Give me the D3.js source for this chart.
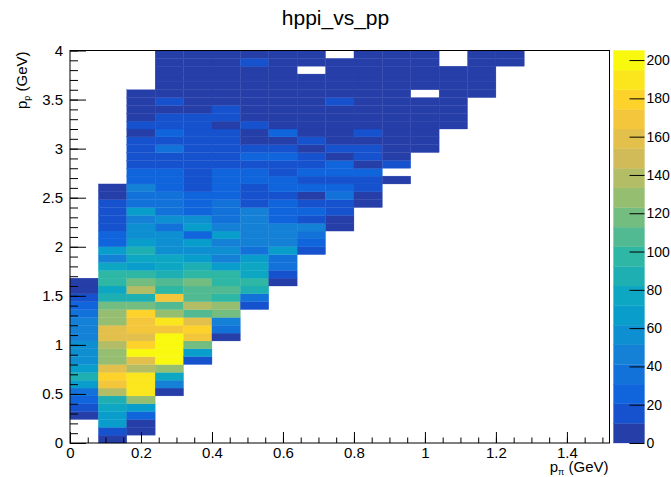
<!DOCTYPE html>
<html>
<head>
<meta charset="utf-8">
<script src="https://cdn.jsdelivr.net/npm/d3@7/dist/d3.min.js"></script>
<style>
  body { margin: 0; background: #fff; }
  text { font-family: "Liberation Sans", Arial, Helvetica, sans-serif; fill: #000; }
</style>
</head>
<body>
<svg id="chart" width="671" height="477"></svg>
<script>
// binning of the 2D histogram (x: p_pi, y: p_p)
const xBinWidth = 0.08;
const yBinWidth = 0.08;
const xRange = [0, 1.52];
const yRange = [0, 4];
const zMax = 205;

// first filled y-bin of every x column
const colStart = [3, 0, 1, 6, 10, 13, 17, 20, 24, 27, 30, 33, 37, 40, 44, 48];

// counts per x column, going up from colStart (0 = empty bin)
const col0 = [4,15,26,36,67,87,67,56,56,56,46,46,46,36,26,15,6,5];
const col1 = [7,15,67,67,77,87,138,169,179,159,128,128,138,159,159,128,128,118,87,77,97,97,77,46,67,26,26,15,15,15,15,6,5];
const col2 = [5,6,26,67,128,190,190,190,138,159,200,179,159,169,169,179,118,87,138,118,97,67,77,87,67,56,56,46,67,36,36,46,26,26,15,15,15,15,5,15,4,6,5,4];
const col3 = [6,46,77,128,205,200,200,200,169,190,128,108,169,97,108,87,77,77,56,56,56,36,56,36,36,36,26,26,26,15,15,36,15,26,15,15,5,15,4,5,6,4,5,4];
const col4 = [15,67,118,169,179,159,108,138,108,108,118,97,87,67,56,67,26,67,56,26,26,26,15,15,15,15,15,15,15,15,15,15,5,4,6,5,4,5,6,4];
const col5 = [5,36,46,118,128,97,108,97,97,67,46,56,46,67,46,36,36,36,26,26,26,26,15,15,15,15,15,5,15,15,4,5,6,4,5,4,5];
const col6 = [15,36,87,97,77,77,67,36,46,46,46,46,46,15,15,15,26,26,15,26,15,5,6,15,4,5,6,4,5,4,5,15,4];
const col7 = [6,15,36,36,67,46,46,46,26,26,26,15,26,26,15,15,26,15,5,26,4,5,6,4,5,4,5,6,4,5];
const col8 = [15,26,36,46,15,26,15,6,26,15,26,15,15,5,15,4,5,6,4,5,4,5,6,0,4,5];
const col9 = [5,6,15,15,36,26,15,26,26,5,15,4,6,5,4,6,15,4,5,6,4,5,0];
const col10 = [5,6,15,15,26,5,15,15,4,15,5,4,6,5,4,5,6,4,5,6];
const col11 = [5,0,15,4,5,6,4,5,4,6,5,4,5,6,4,5,4];
const col12 = [5,4,6,5,4,5,6,0,4,5,6,4,5];
const col13 = [4,5,6,4,5,4,6,5,0,0];
const col14 = [5,4,6,5,4,5];
const col15 = [4,5];

const columns = [col0, col1, col2, col3, col4, col5, col6, col7, col8, col9, col10, col11, col12, col13, col14, col15];

const xTickValues = [0, 0.2, 0.4, 0.6, 0.8, 1, 1.2, 1.4];
const yTickValues = [0, 0.5, 1, 1.5, 2, 2.5, 3, 3.5, 4];
const zTickValues = [0, 20, 40, 60, 80, 100, 120, 140, 160, 180, 200];

// ROOT kBird palette stops
const birdStops = [0, 0.125, 0.25, 0.375, 0.5, 0.625, 0.75, 0.875, 1];
const birdRed   = [0.2082, 0.0592, 0.0780, 0.0232, 0.1802, 0.5301, 0.8186, 0.9956, 0.9764];
const birdGreen = [0.1664, 0.3599, 0.5041, 0.6419, 0.7178, 0.7492, 0.7328, 0.7862, 0.9832];
const birdBlue  = [0.5293, 0.8684, 0.8385, 0.7914, 0.6425, 0.4662, 0.3499, 0.1968, 0.0539];
const nContours = 20;

// build flat cell list
const cells = [];
columns.forEach((col, i) => {
  col.forEach((v, j) => {
    if (v > 0) cells.push({ ix: i, iy: colStart[i] + j, v });
  });
});

// 255 colour gradient like TColor::CreateGradientColorTable
const nColors = 255;
const table = [];
for (let g = 1; g < birdStops.length; g++) {
  const n = Math.floor(nColors * birdStops[g]) - Math.floor(nColors * birdStops[g - 1]);
  for (let c = 0; c < n; c++) {
    const t = c / n;
    table.push(d3.rgb(
      255 * (birdRed[g - 1] + t * (birdRed[g] - birdRed[g - 1])),
      255 * (birdGreen[g - 1] + t * (birdGreen[g] - birdGreen[g - 1])),
      255 * (birdBlue[g - 1] + t * (birdBlue[g] - birdBlue[g - 1]))
    ));
  }
}
while (table.length < nColors) table.push(d3.rgb(255 * birdRed[8], 255 * birdGreen[8], 255 * birdBlue[8]));
const bandColor = d3.range(nContours).map(i => table[Math.min(nColors - 1, Math.floor((i + 0.99) * nColors / nContours))].formatHex());

function colorOf(v) {
  const b = Math.min(nContours - 1, Math.floor(v / zMax * nContours));
  return bandColor[b];
}

const svg = d3.select('#chart');

const frame = { left: 70, right: 609.5, top: 50.5, bottom: 443 };
const x = d3.scaleLinear().domain(xRange).range([frame.left, frame.right]);
const y = d3.scaleLinear().domain(yRange).range([frame.bottom, frame.top]);

// cells
svg.append('g')
  .attr('class', 'cells')
  .selectAll('rect')
  .data(cells)
  .join('rect')
  .attr('x', d => x(d.ix * xBinWidth))
  .attr('y', d => y((d.iy + 1) * yBinWidth))
  .attr('width', d => x((d.ix + 1) * xBinWidth) - x(d.ix * xBinWidth))
  .attr('height', d => y(d.iy * yBinWidth) - y((d.iy + 1) * yBinWidth))
  .attr('fill', d => colorOf(d.v))
  .attr('stroke', d => colorOf(d.v))
  .attr('stroke-width', 0.3);

// frame
svg.append('rect')
  .attr('x', frame.left)
  .attr('y', frame.top)
  .attr('width', frame.right - frame.left)
  .attr('height', frame.bottom - frame.top)
  .attr('fill', 'none')
  .attr('stroke', '#000')
  .attr('stroke-width', 1);

const fmt = d => String(+d.toFixed(2));

// x axis
const xMinor = d3.range(0, 31).map(i => i * 0.05).filter(v => v <= 1.52);
svg.append('g')
  .attr('transform', `translate(0,${frame.bottom})`)
  .call(d3.axisBottom(x).tickValues(xMinor).tickSize(-5.5).tickFormat(''))
  .call(g => g.select('.domain').remove());
svg.append('g')
  .attr('transform', `translate(0,${frame.bottom})`)
  .call(d3.axisBottom(x).tickValues(xTickValues).tickSize(-11).tickPadding(4).tickFormat(fmt))
  .call(g => g.select('.domain').remove())
  .call(g => g.selectAll('text').attr('font-size', 15).attr('font-family', null).attr('fill', '#000'));

// y axis
const yMinor = d3.range(0, 41).map(i => i * 0.1);
svg.append('g')
  .attr('transform', `translate(${frame.left},0)`)
  .call(d3.axisLeft(y).tickValues(yMinor).tickSize(-8).tickFormat(''))
  .call(g => g.select('.domain').remove());
svg.append('g')
  .attr('transform', `translate(${frame.left},0)`)
  .call(d3.axisLeft(y).tickValues(yTickValues).tickSize(-16).tickPadding(7).tickFormat(fmt))
  .call(g => g.select('.domain').remove())
  .call(g => g.selectAll('text').attr('font-size', 15).attr('font-family', null).attr('fill', '#000'));

// axis titles
const xTitle = svg.append('text')
  .attr('x', frame.right - 1)
  .attr('y', 472)
  .attr('text-anchor', 'end')
  .attr('font-size', 15);
xTitle.append('tspan').text('p');
xTitle.append('tspan').attr('font-size', 9).attr('dy', 3).text('π');
xTitle.append('tspan').attr('dy', -3).text(' (GeV)');

const yTitle = svg.append('text')
  .attr('transform', `translate(27,${frame.top + 1}) rotate(-90)`)
  .attr('text-anchor', 'end')
  .attr('font-size', 15);
yTitle.append('tspan').text('p');
yTitle.append('tspan').attr('font-size', 9).attr('dy', 3).text('p');
yTitle.append('tspan').attr('dy', -3).text(' (GeV)');

// title
svg.append('text')
  .attr('x', 335.5)
  .attr('y', 25)
  .attr('text-anchor', 'middle')
  .attr('font-size', 21)
  .text('hppi_vs_pp');

// palette
const pal = { left: 613.5, right: 644.5 };
const z = d3.scaleLinear().domain([0, zMax]).range([frame.bottom, frame.top]);
const bandEdges = d3.range(nContours + 1).map(i => i * zMax / nContours);
svg.append('g')
  .selectAll('rect')
  .data(d3.range(nContours))
  .join('rect')
  .attr('x', pal.left)
  .attr('width', pal.right - pal.left)
  .attr('y', i => z(bandEdges[i + 1]))
  .attr('height', i => z(bandEdges[i]) - z(bandEdges[i + 1]))
  .attr('fill', i => bandColor[i])
  .attr('stroke', i => bandColor[i])
  .attr('stroke-width', 0.3);

svg.append('g')
  .attr('transform', `translate(${pal.right},0)`)
  .call(d3.axisRight(z).tickValues(zTickValues).tickSize(-15).tickPadding(2).tickFormat(d3.format('d')))
  .call(g => g.select('.domain').remove())
  .call(g => g.selectAll('text').attr('font-size', 14).attr('font-family', null).attr('fill', '#000'));
</script>
</body>
</html>
